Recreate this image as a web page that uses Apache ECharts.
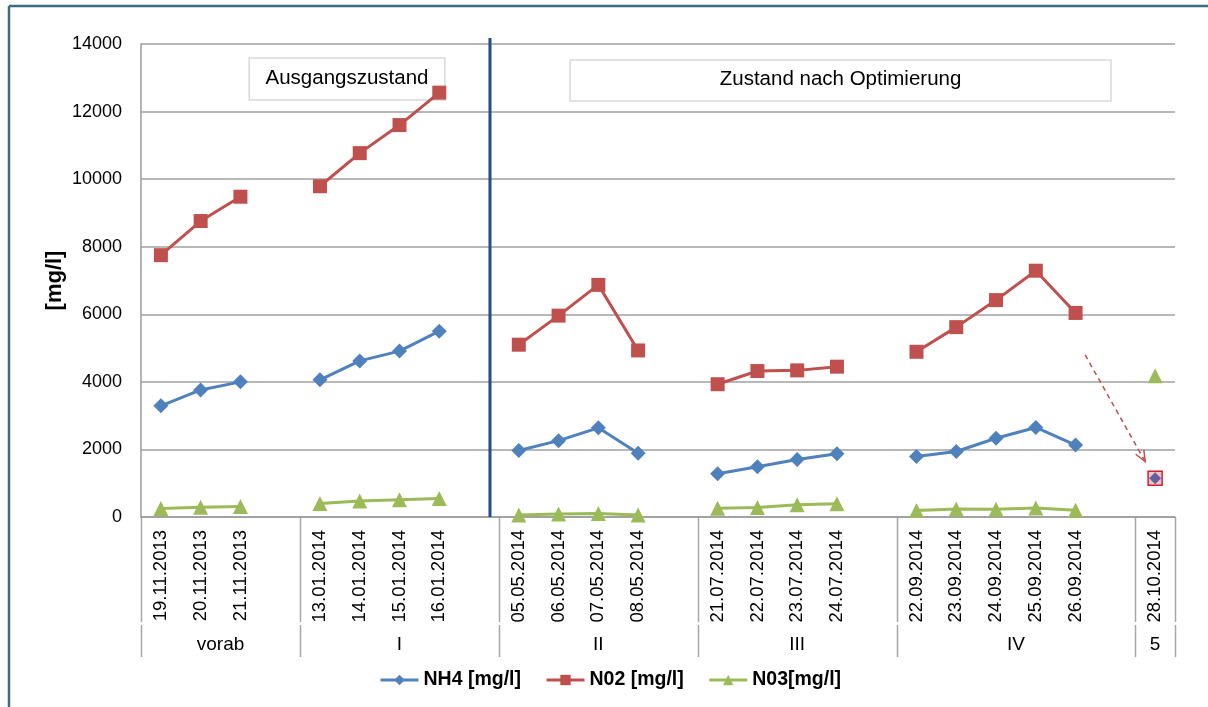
<!DOCTYPE html>
<html>
<head>
<meta charset="utf-8">
<script src="https://cdn.jsdelivr.net/npm/echarts@6/dist/echarts.min.js"></script>
<style>
html,body{margin:0;padding:0;background:#fff;}
#main{width:1208px;height:707px;}
</style>
</head>
<body>
<div id="main"></div>
<script>
// Categories (empty string = spacer category between groups)
var categories = ['19.11.2013','20.11.2013','21.11.2013','',
  '13.01.2014','14.01.2014','15.01.2014','16.01.2014','',
  '05.05.2014','06.05.2014','07.05.2014','08.05.2014','',
  '21.07.2014','22.07.2014','23.07.2014','24.07.2014','',
  '22.09.2014','23.09.2014','24.09.2014','25.09.2014','26.09.2014','',
  '28.10.2014'];
var groupNames = ['vorab','I','II','III','IV','5'];
var groupSizes = [4,5,5,5,6,1];

var nh4 = [3290,3760,4000,null, 4060,4620,4910,5500,null, 1970,2260,2640,1890,null,
  1280,1490,1700,1870,null, 1790,1940,2330,2650,2130,null, 1150];
var no2 = [7750,8760,9480,null, 9790,10770,11600,12560,null, 5100,5960,6870,4930,null,
  3930,4320,4340,4450,null, 4890,5620,6420,7290,6040,null, 1150];
var no3 = [250,290,310,null, 400,470,510,550,null, 60,90,100,60,null,
  260,280,360,390,null, 190,240,230,270,200,null, 4180];

var yTicks = [0,2000,4000,6000,8000,10000,12000,14000];
var seriesNames = ['NH4 [mg/l]','N02 [mg/l]','N03[mg/l]'];
var boxTexts = ['Ausgangszustand','Zustand nach Optimierung'];

var FONT = '"Liberation Sans", Arial, sans-serif';
var W = 1208, H = 707;
var G = {left: 141, right: 33, top: 44, bottom: 190};
var chart = echarts.init(document.getElementById('main'));

var no2Data = no2.map(function(v, i){
  if (i === categories.length - 1 && v != null) {
    return {value: v, itemStyle: {color: 'rgba(220,160,170,0.6)', borderColor: '#D0202A', borderWidth: 1.5}};
  }
  return v;
});
var nh4Data = nh4.map(function(v, i){
  if (i === categories.length - 1 && v != null) {
    return {value: v, symbolSize: 12, itemStyle: {color: '#6460A0'}};
  }
  return v;
});

var option = {
  animation: false,
  backgroundColor: '#fff',
  grid: G,
  legend: {
    bottom: 12, left: 374,
    itemWidth: 38, itemHeight: 13, itemGap: 24,
    lineStyle: {width: 3},
    textStyle: {fontFamily: FONT, fontSize: 19.5, fontWeight: 'bold', color: '#000'},
    data: seriesNames
  },
  xAxis: {
    type: 'category',
    data: categories,
    boundaryGap: true,
    axisLine: {lineStyle: {color: '#9a9a9a', width: 1.5}},
    axisTick: {show: false},
    axisLabel: {interval: 0, rotate: 90, margin: 13, fontFamily: FONT, fontSize: 18.5, color: '#000'}
  },
  yAxis: {
    type: 'value', min: 0, max: 14000, interval: 2000,
    name: '[mg/l]', nameLocation: 'middle', nameGap: 75, nameRotate: 90,
    nameMoveOverlap: false,
    nameTextStyle: {fontFamily: FONT, fontSize: 22, fontWeight: 'bold', color: '#000'},
    axisLine: {show: true, lineStyle: {color: '#9a9a9a', width: 1.5}},
    axisTick: {show: false},
    splitLine: {lineStyle: {color: '#a0a0a0', width: 1.5}},
    axisLabel: {margin: 19, fontFamily: FONT, fontSize: 18, color: '#000',
      formatter: function(v){ return yTicks.indexOf(v) >= 0 ? String(v) : ''; }}
  },
  series: [
    {name: seriesNames[0], type: 'line', data: nh4Data, z: 4,
      symbol: 'diamond', symbolSize: 15, connectNulls: false,
      lineStyle: {color: '#4F81BD', width: 3}, itemStyle: {color: '#4F81BD'}},
    {name: seriesNames[1], type: 'line', data: no2Data, z: 3,
      symbol: 'rect', symbolSize: 14, connectNulls: false,
      lineStyle: {color: '#C0504D', width: 3}, itemStyle: {color: '#C0504D'}},
    {name: seriesNames[2], type: 'line', data: no3, z: 2,
      symbol: 'triangle', symbolSize: 15, connectNulls: false,
      lineStyle: {color: '#9BBB59', width: 3}, itemStyle: {color: '#9BBB59'}}
  ]
};
chart.setOption(option);

// x position in category-boundary units (0 = left edge of plot, n = right edge)
var plotW = W - G.left - G.right;
var catW = plotW / categories.length;
function xAt(pos){ return G.left + pos * catW; }
function yAt(val){ return chart.convertToPixel({yAxisIndex: 0}, val); }

var graphics = [];
// outer frame
graphics.push({type: 'line', shape: {x1: 9, y1: 6, x2: W, y2: 6}, style: {stroke: '#3F6B84', lineWidth: 2.5}, z: 100});
graphics.push({type: 'line', shape: {x1: 9, y1: 6, x2: 9, y2: H}, style: {stroke: '#3F6B84', lineWidth: 2.5}, z: 100});

// group separators and labels
var y0 = yAt(0);
var b = 0;
var bounds = [0];
groupSizes.forEach(function(s){ b += s; bounds.push(b); });
bounds.forEach(function(bd){
  var x = Math.round(xAt(bd)) + 0.5;
  graphics.push({type: 'line', shape: {x1: x, y1: y0, x2: x, y2: y0 + 105}, style: {stroke: '#a6a6a6', lineWidth: 1.5}});
  graphics.push({type: 'line', shape: {x1: x, y1: y0 + 108, x2: x, y2: y0 + 140}, style: {stroke: '#a6a6a6', lineWidth: 1.5}});
});
for (var g = 0; g < groupNames.length; g++) {
  var cx = (xAt(bounds[g]) + xAt(bounds[g + 1])) / 2;
  graphics.push({type: 'text', x: cx, y: y0 + 128,
    style: {text: groupNames[g], font: '19px ' + FONT, fill: '#000', textAlign: 'center', textVerticalAlign: 'middle'}});
}

// vertical divider between initial state and optimized state
var divX = xAt(8.775);
var divTop = yAt(14000) - 6;
graphics.push({type: 'line', shape: {x1: divX, y1: divTop, x2: divX, y2: y0}, style: {stroke: '#1F4E8C', lineWidth: 3}, z: 1});

// text boxes
function box(p0, p1, vTop, vBot, text){
  var x0 = xAt(p0), x1 = xAt(p1), t = yAt(vTop), bt = yAt(vBot);
  graphics.push({type: 'rect', shape: {x: x0, y: t, width: x1 - x0, height: bt - t},
    style: {fill: '#fff', stroke: '#d9d9d9', lineWidth: 1.5}, z: 1});
  graphics.push({type: 'text', x: (x0 + x1) / 2, y: (t + bt) / 2 - 1,
    style: {text: text, font: '20.5px ' + FONT, fill: '#000', textAlign: 'center', textVerticalAlign: 'middle'}, z: 1});
}
box(2.72, 7.64, 13585, 12342, boxTexts[0]);
box(10.79, 24.39, 13526, 12313, boxTexts[1]);

// dashed arrow from last IV point toward the lone 28.10 point
var a0 = [xAt(23.74), yAt(4800)], a1 = [xAt(25.25), yAt(1640)];
graphics.push({type: 'line', shape: {x1: a0[0], y1: a0[1], x2: a1[0], y2: a1[1]},
  style: {stroke: '#C0504D', lineWidth: 1.5, lineDash: [5, 4]}, z: 5});
var ang = Math.atan2(a1[1] - a0[1], a1[0] - a0[0]);
var hl = 12, ha = 0.4;
graphics.push({type: 'polyline', shape: {points: [
  [a1[0] - hl * Math.cos(ang - ha), a1[1] - hl * Math.sin(ang - ha)],
  [a1[0], a1[1]],
  [a1[0] - hl * Math.cos(ang + ha), a1[1] - hl * Math.sin(ang + ha)]]},
  style: {stroke: '#C0504D', lineWidth: 1.5, fill: null}, z: 5});

chart.setOption({graphic: graphics});
</script>
</body>
</html>
